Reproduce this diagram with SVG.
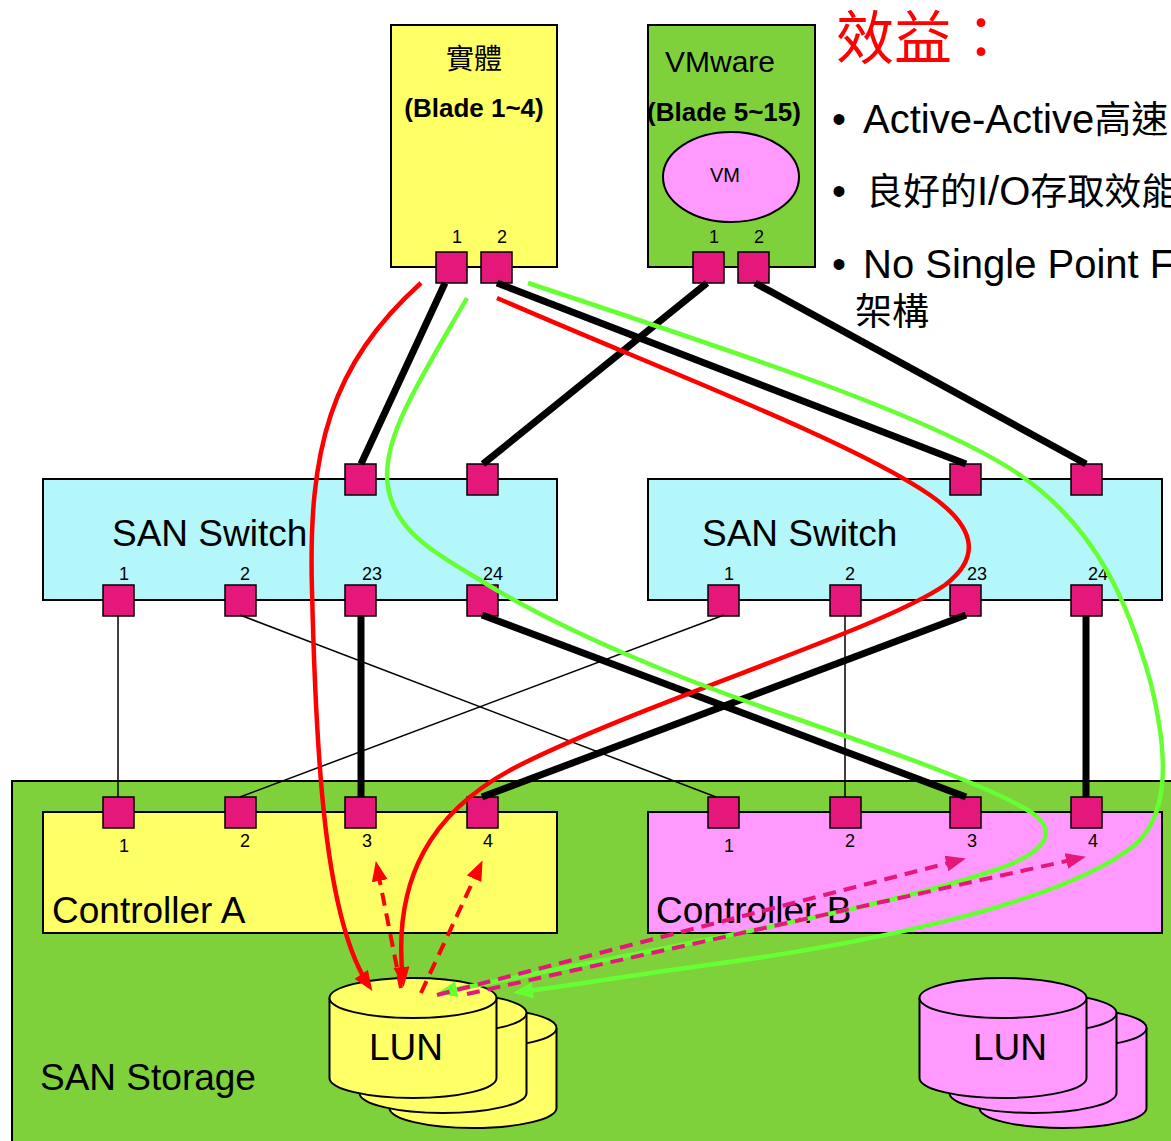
<svg xmlns="http://www.w3.org/2000/svg" width="1171" height="1141" viewBox="0 0 1171 1141">
<style>
.box{stroke:#000;stroke-width:2}
.yel{fill:#FFFF66}
.grn{fill:#7FD13B}
.cyan{fill:#B3F7FB}
.pink{fill:#FF99FF}
.port{fill:#E6177A;stroke:#000;stroke-width:1.5}
.t{font-family:"Liberation Sans",Arial,"Noto Sans CJK TC",sans-serif;fill:#000}
.cjk{font-family:"Noto Sans CJK TC","Noto Sans CJK SC",sans-serif}
.pl{font-size:18px;text-anchor:middle}
.big{font-size:37px}
.bl{font-size:40px}
.bc{font-size:37px}
.thick{stroke:#000;stroke-width:7;fill:none}
.thin{stroke:#000;stroke-width:1.5;fill:none}
.red{stroke:#FF0000;stroke-width:4.5;fill:none}
.gl{stroke:#66FF33;stroke-width:4.5;fill:none}
.rd{stroke:#FF0000;stroke-width:4;fill:none;stroke-dasharray:13 8}
.pd{stroke:#E6177A;stroke-width:4;fill:none;stroke-dasharray:13 8}
.cyl{stroke:#000;stroke-width:2}
</style>
<defs>
<marker id="aR" markerUnits="userSpaceOnUse" markerWidth="22" markerHeight="18" refX="14" refY="8" orient="auto"><path d="M0,0 L20,8 L0,16 z" fill="#FF0000"/></marker>
<marker id="aG" markerUnits="userSpaceOnUse" markerWidth="22" markerHeight="18" refX="14" refY="8" orient="auto"><path d="M0,0 L20,8 L0,16 z" fill="#66FF33"/></marker>
<marker id="aP" markerUnits="userSpaceOnUse" markerWidth="22" markerHeight="18" refX="14" refY="8" orient="auto"><path d="M0,0 L20,8 L0,16 z" fill="#E6177A"/></marker>
</defs>

<g id="benefits">
<text class="cjk" x="836" y="59" font-size="58" fill="#FF0000">效益：</text>
<text class="t bl" x="832" y="133">•</text>
<text class="t bl" x="863" y="133">Active-Active<tspan class="cjk bc">高速</tspan></text>
<text class="t bl" x="832" y="205">•</text>
<text class="t bl" x="866" y="205"><tspan class="cjk bc">良好的</tspan>I/O<tspan class="cjk bc">存取效能</tspan></text>
<text class="t bl" x="832" y="278">•</text>
<text class="t bl" x="863" y="278">No Single Point F</text>
<text class="cjk bc" x="855" y="325">架構</text>
</g>

<g id="storage">
<rect class="box grn" x="12" y="781" width="1170" height="370"/>
<text class="t big" x="40" y="1090">SAN Storage</text>
</g>

<g id="blade-physical">
<rect class="box yel" x="391" y="25" width="166" height="242"/>
<text class="cjk" x="474" y="69" font-size="28" text-anchor="middle">實體</text>
<text class="t" x="474" y="117" font-size="26" font-weight="bold" text-anchor="middle">(Blade 1~4)</text>
<text class="t pl" x="457" y="243">1</text>
<text class="t pl" x="502" y="243">2</text>
<rect class="port" x="436" y="252" width="31" height="31"/>
<rect class="port" x="481" y="252" width="31" height="31"/>
</g>

<g id="blade-vmware">
<rect class="box grn" x="648" y="25" width="167" height="242"/>
<text class="t" x="720" y="72" font-size="30" text-anchor="middle">VMware</text>
<text class="t" x="724" y="121" font-size="26" font-weight="bold" text-anchor="middle">(Blade 5~15)</text>
<ellipse class="box pink" cx="731" cy="177" rx="68" ry="45"/>
<text class="t" x="725" y="182" font-size="20" text-anchor="middle">VM</text>
<text class="t pl" x="714" y="243">1</text>
<text class="t pl" x="759" y="243">2</text>
<rect class="port" x="693" y="252" width="31" height="31"/>
<rect class="port" x="738" y="252" width="31" height="31"/>
</g>

<g id="switch-left">
<rect class="box cyan" x="43" y="479" width="514" height="121"/>
<text class="t big" x="112" y="546">SAN Switch</text>
<text class="t pl" x="124" y="580">1</text>
<text class="t pl" x="245" y="580">2</text>
<text class="t pl" x="372" y="580">23</text>
<text class="t pl" x="493" y="580">24</text>
<rect class="port" x="345" y="464" width="31" height="31"/>
<rect class="port" x="467" y="464" width="31" height="31"/>
<rect class="port" x="103" y="585" width="31" height="31"/>
<rect class="port" x="225" y="585" width="31" height="31"/>
<rect class="port" x="345" y="585" width="31" height="31"/>
<rect class="port" x="467" y="585" width="31" height="31"/>
</g>

<g id="switch-right">
<rect class="box cyan" x="648" y="479" width="514" height="121"/>
<text class="t big" x="702" y="546">SAN Switch</text>
<text class="t pl" x="729" y="580">1</text>
<text class="t pl" x="850" y="580">2</text>
<text class="t pl" x="977" y="580">23</text>
<text class="t pl" x="1098" y="580">24</text>
<rect class="port" x="950" y="464" width="31" height="31"/>
<rect class="port" x="1071" y="464" width="31" height="31"/>
<rect class="port" x="708" y="585" width="31" height="31"/>
<rect class="port" x="830" y="585" width="31" height="31"/>
<rect class="port" x="950" y="585" width="31" height="31"/>
<rect class="port" x="1071" y="585" width="31" height="31"/>
</g>

<g id="controller-a">
<rect class="box yel" x="43" y="812" width="514" height="121"/>
<text class="t big" x="52" y="923">Controller A</text>
<text class="t pl" x="124" y="852">1</text>
<text class="t pl" x="245" y="847">2</text>
<text class="t pl" x="367" y="847">3</text>
<text class="t pl" x="488" y="847">4</text>
<rect class="port" x="103" y="797" width="31" height="31"/>
<rect class="port" x="225" y="797" width="31" height="31"/>
<rect class="port" x="345" y="797" width="31" height="31"/>
<rect class="port" x="467" y="797" width="31" height="31"/>
</g>

<g id="controller-b">
<rect class="box pink" x="648" y="812" width="514" height="121"/>
<text class="t big" x="656" y="923">Controller B</text>
<text class="t pl" x="729" y="852">1</text>
<text class="t pl" x="850" y="847">2</text>
<text class="t pl" x="972" y="847">3</text>
<text class="t pl" x="1093" y="847">4</text>
<rect class="port" x="708" y="797" width="31" height="31"/>
<rect class="port" x="830" y="797" width="31" height="31"/>
<rect class="port" x="950" y="797" width="31" height="31"/>
<rect class="port" x="1071" y="797" width="31" height="31"/>
</g>

<g id="lun-a" class="yel">
<path class="cyl" d="M389.5,1028 V1108 A83.5,20 0 0 0 556.5,1108 V1028"/>
<ellipse class="cyl" cx="473" cy="1028" rx="83.5" ry="20"/>
<path class="cyl" d="M359.5,1013 V1093 A83.5,20 0 0 0 526.5,1093 V1013"/>
<ellipse class="cyl" cx="443" cy="1013" rx="83.5" ry="20"/>
<path class="cyl" d="M329.5,998 V1078 A83.5,20 0 0 0 496.5,1078 V998"/>
<ellipse class="cyl" cx="413" cy="998" rx="83.5" ry="20"/>
<text class="t" x="406" y="1060" font-size="37" text-anchor="middle">LUN</text>
</g>

<g id="lun-b" class="pink">
<path class="cyl" d="M979.5,1028 V1108 A83.5,20 0 0 0 1146.5,1108 V1028"/>
<ellipse class="cyl" cx="1063" cy="1028" rx="83.5" ry="20"/>
<path class="cyl" d="M949.5,1013 V1093 A83.5,20 0 0 0 1116.5,1093 V1013"/>
<ellipse class="cyl" cx="1033" cy="1013" rx="83.5" ry="20"/>
<path class="cyl" d="M919.5,998 V1078 A83.5,20 0 0 0 1086.5,1078 V998"/>
<ellipse class="cyl" cx="1003" cy="998" rx="83.5" ry="20"/>
<text class="t" x="1010" y="1060" font-size="37" text-anchor="middle">LUN</text>
</g>

<g id="connectors">
<line class="thick" x1="445" y1="283" x2="361" y2="464"/>
<line class="thick" x1="497" y1="283" x2="966" y2="464"/>
<line class="thick" x1="707" y1="283" x2="483" y2="464"/>
<line class="thick" x1="755" y1="283" x2="1086" y2="464"/>
<line class="thin" x1="118" y1="615" x2="118" y2="797"/>
<line class="thin" x1="240" y1="615" x2="716" y2="797"/>
<line class="thick" x1="361" y1="615" x2="361" y2="797"/>
<line class="thick" x1="482" y1="615" x2="966" y2="797"/>
<line class="thin" x1="724" y1="615" x2="240" y2="797"/>
<line class="thin" x1="845" y1="615" x2="845" y2="797"/>
<line class="thick" x1="966" y1="615" x2="482" y2="797"/>
<line class="thick" x1="1086" y1="615" x2="1086" y2="797"/>

<path class="red" marker-end="url(#aR)" d="M421,283 C330,365 308,450 312,590 C316,760 325,920 369,986"/>
<path class="red" marker-end="url(#aR)" d="M497,298 C650,365 850,440 930,495 C980,530 978,560 945,585 C880,630 650,700 520,765 C430,810 392,880 403,981"/>
<path class="gl" marker-end="url(#aG)" d="M467,298 C420,380 380,440 388,487 C395,530 430,550 480,580 C560,630 680,680 800,720 C900,755 1000,790 1035,815 C1060,835 1040,855 995,870 C880,910 650,950 443,992"/>
<path class="gl" marker-end="url(#aG)" d="M528,283 C760,360 940,420 1020,475 C1100,530 1130,610 1150,680 C1170,760 1168,815 1135,845 C1060,905 860,945 700,966 C620,977 560,987 519,992"/>
<path class="rd" marker-end="url(#aR)" d="M401,988 L377,867"/>
<path class="rd" marker-end="url(#aR)" d="M421,993 L480,866"/>
<path class="pd" marker-end="url(#aP)" d="M437,995 L960,860"/>
<path class="pd" marker-end="url(#aP)" d="M467,994 L1080,858"/>
</g>
</svg>
